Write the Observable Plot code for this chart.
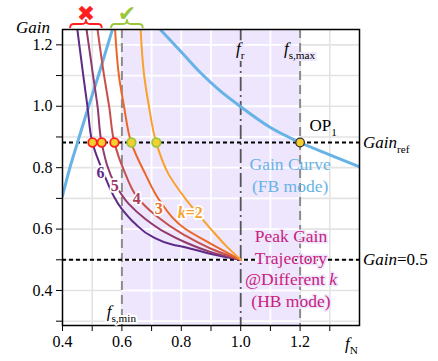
<!DOCTYPE html>
<html>
<head>
<meta charset="utf-8">
<script src="https://cdn.jsdelivr.net/npm/d3@7"></script>
<script src="https://cdn.jsdelivr.net/npm/@observablehq/plot@0.6"></script>
<style>
  html, body { margin: 0; padding: 0; background: #fff; }
  #chart svg { display: block; }
  #chart svg text.serif, #chart svg g[aria-label*="tick"] text, #chart svg g[aria-label*="axis"] text { font-family: "Liberation Serif", serif; }
</style>
</head>
<body>
<div id="chart"></div>
<script>
// Axis layout (normalized frequency f_N vs. gain)
const xDomain = [0.4, 1.4];
const yDomain = [0.286, 1.25];
const xTicks = [0.4, 0.5, 0.6, 0.7, 0.8, 0.9, 1.0, 1.1, 1.2, 1.3];
const xTickLabels = [0.4, 0.6, 0.8, 1.0, 1.2];
const yTicks = [0.3, 0.4, 0.5, 0.6, 0.7, 0.8, 0.9, 1.0, 1.1, 1.2];
const yTickLabels = [0.4, 0.6, 0.8, 1.0, 1.2];
const xGrid = [0.5, 0.6, 0.7, 0.8, 0.9, 1.0, 1.1, 1.2, 1.3];
const xGridInside = [0.7, 0.8, 0.9, 1.1];

// Key frequencies and gain levels
const fsMin = 0.6;
const fr = 1.0;
const fsMax = 1.2;
const gainRef = 0.882;
const gainHalf = 0.5;

// Gain curve in full-bridge mode (two visible branches around the clipped peak)
const fbRiseF = [0.400, 0.425, 0.450, 0.488, 0.521, 0.568];
const fbRiseG = [0.708, 0.800, 0.880, 1.000, 1.100, 1.250];
const fbFallF = [0.729, 0.797, 0.864, 0.931, 0.998, 1.100, 1.200, 1.300, 1.400];
const fbFallG = [1.250, 1.180, 1.110, 1.050, 1.000, 0.931, 0.882, 0.842, 0.803];

// Peak gain trajectories in half-bridge mode for k = 6, 5, 4, 3, 2
const k6F = [0.450, 0.470, 0.484, 0.501, 0.535, 0.600, 0.645, 0.701, 0.769, 0.813, 0.900, 1.000];
const k6G = [1.250, 1.100, 1.000, 0.880, 0.790, 0.665, 0.617, 0.576, 0.550, 0.541, 0.519, 0.500];
const k5F = [0.481, 0.503, 0.518, 0.532, 0.578, 0.623, 0.679, 0.746, 0.813, 0.900, 1.000];
const k5G = [1.250, 1.100, 1.000, 0.880, 0.745, 0.682, 0.633, 0.589, 0.557, 0.525, 0.500];
const k4F = [0.518, 0.540, 0.557, 0.575, 0.612, 0.651, 0.713, 0.813, 0.900, 1.000];
const k4G = [1.250, 1.100, 1.000, 0.880, 0.779, 0.705, 0.645, 0.579, 0.536, 0.500];
const k3F = [0.577, 0.590, 0.607, 0.632, 0.679, 0.729, 0.813, 0.900, 1.000];
const k3G = [1.250, 1.100, 1.000, 0.880, 0.779, 0.690, 0.601, 0.552, 0.500];
const k2F = [0.663, 0.675, 0.691, 0.716, 0.757, 0.813, 0.900, 0.950, 1.000];
const k2G = [1.250, 1.100, 1.000, 0.880, 0.779, 0.700, 0.600, 0.546, 0.500];

const kValues = [6, 5, 4, 3, 2];
const kColors = ["#5e2a86", "#923a6c", "#c6504d", "#eb6727", "#f9a12b"];
const kLabelColors = ["#642b8c", "#9a3468", "#ad3c5a", "#ec6a28", "#f9a12b"];
const kLabelText = ["6", "5", "4", "3", "k=2"];
const kLabelF = [0.530, 0.578, 0.652, 0.726, 0.832];
const kLabelG = [0.784, 0.739, 0.698, 0.664, 0.654];

// Crossings of each k trajectory with Gain_ref
const crossF = [0.501, 0.532, 0.575, 0.632, 0.716];

const serif = "Liberation Serif, serif";
const lavender = "#eee6fc";
const blue = "#68b3e6";
const magenta = "#c81d7e";
const okGreen = "#9ac73c";
const badRed = "#ff1f1f";
const markerFill = "#f4cf2f";

const kSeries = [
  {f: k6F, g: k6G}, {f: k5F, g: k5G}, {f: k4F, g: k4G}, {f: k3F, g: k3G}, {f: k2F, g: k2G}
];
const rows = (fs, gs) => fs.map((f, i) => ({f, g: gs[i]}));

// Multi-part text with italics and subscripts, positioned through the plot scales
function richText(items) {
  return (index, scales) => {
    const g = d3.create("svg:g");
    for (const it of items) {
      const x0 = scales.x(it.x) + (it.dx ?? 0);
      const y0 = scales.y(it.y) + (it.dy ?? 0);
      const size = it.size ?? 17;
      it.lines.forEach((parts, li) => {
        const t = g.append("text")
          .attr("class", "serif")
          .attr("x", x0)
          .attr("y", y0 + li * (it.lineHeight ?? 0))
          .attr("text-anchor", it.anchor ?? "start")
          .attr("font-size", size)
          .attr("fill", it.fill ?? "black");
        if (it.weight) t.attr("font-weight", it.weight);
        if (it.halo) {
          t.attr("stroke", it.halo).attr("stroke-width", it.haloWidth ?? 4)
            .attr("paint-order", "stroke").attr("stroke-linejoin", "round");
        }
        let down = false;
        for (const [txt, style] of parts) {
          const s = t.append("tspan").text(txt);
          if (style.includes("it")) s.attr("font-style", "italic");
          if (style.includes("sub")) {
            s.attr("font-size", size * 0.66);
            if (!down) { s.attr("dy", size * 0.28); down = true; }
          } else if (down) {
            s.attr("dy", -size * 0.28); down = false;
          }
        }
      });
    }
    return g.node();
  };
}

// Curly braces with ✖ / ✔ above the top edge of the frame
function braces(spans) {
  return (index, scales, values, dims) => {
    const g = d3.create("svg:g");
    const yb = dims.marginTop - 1, ym = yb - 4, yt = yb - 8, r = 4;
    for (const sp of spans) {
      const x1 = scales.x(sp.from), x2 = scales.x(sp.to), xm = (x1 + x2) / 2;
      const p = `M${x1},${yb} Q${x1},${ym} ${x1 + r},${ym} L${xm - r},${ym} Q${xm},${ym} ${xm},${yt}` +
        ` Q${xm},${ym} ${xm + r},${ym} L${x2 - r},${ym} Q${x2},${ym} ${x2},${yb}`;
      g.append("path").attr("d", p).attr("fill", "none").attr("stroke", sp.color)
        .attr("stroke-width", 1.8).attr("stroke-linejoin", "round");
      g.append("text").attr("x", xm).attr("y", yt + 1).attr("text-anchor", "middle")
        .attr("style", `font-family: 'DejaVu Sans', sans-serif; font-size: ${sp.size}px; font-weight: bold`)
        .attr("fill", sp.color).text(sp.glyph);
    }
    return g.node();
  };
}

const chart = Plot.plot({
  width: 438,
  height: 361,
  marginLeft: 62,
  marginRight: 79,
  marginTop: 29,
  marginBottom: 36,
  style: {fontFamily: serif, fontSize: "16px", background: "white", overflow: "visible", color: "black"},
  x: {
    domain: xDomain, ticks: xTicks, tickSize: 6, tickPadding: 4, label: null,
    tickFormat: d => xTickLabels.some(v => Math.abs(v - d) < 1e-9) ? d.toFixed(1) : ""
  },
  y: {
    domain: yDomain, ticks: yTicks, tickSize: 6, tickPadding: 4, label: null,
    tickFormat: d => yTickLabels.some(v => Math.abs(v - d) < 1e-9) ? d.toFixed(1) : ""
  },
  marks: [
    // light grid on white
    Plot.ruleX(xGrid, {stroke: "#e3e3e3", strokeWidth: 1.6}),
    Plot.ruleY(yTicks, {stroke: "#e3e3e3", strokeWidth: 1.6}),
    // operating band fs,min .. fs,max
    Plot.rect([{a: fsMin, b: fsMax}], {x1: "a", x2: "b", y1: yDomain[0], y2: yDomain[1], fill: lavender}),
    Plot.ruleX(xGridInside, {stroke: "white", strokeWidth: 1.8}),
    Plot.ruleY(yTicks, {x1: fsMin, x2: fsMax, stroke: "white", strokeWidth: 1.8}),
    // frequency markers
    Plot.ruleX([fsMin, fsMax], {stroke: "#8c8c8c", strokeWidth: 2, strokeDasharray: "9,5"}),
    Plot.ruleX([fr], {stroke: "#555", strokeWidth: 1.8, strokeDasharray: "14,4,2,4"}),
    // gain reference levels
    Plot.ruleY([gainRef, gainHalf], {x1: xDomain[0], x2: xDomain[1], stroke: "black", strokeWidth: 2, strokeDasharray: "4,3"}),
    // FB gain curve
    Plot.line(rows(fbRiseF, fbRiseG), {x: "f", y: "g", stroke: blue, strokeWidth: 3, curve: "monotone-x", clip: true}),
    Plot.line(rows(fbFallF, fbFallG), {x: "f", y: "g", stroke: blue, strokeWidth: 3, curve: "monotone-x", clip: true}),
    // HB peak gain trajectories
    ...kSeries.map((s, i) => Plot.line(rows(s.f, s.g), {
      x: "f", y: "g", stroke: kColors[i], strokeWidth: 2, curve: "monotone-y", clip: true
    })),
    // crossings at Gain_ref
    Plot.dot(crossF.filter(f => f < fsMin), {x: d => d, y: gainRef, r: 4.3, fill: markerFill, stroke: badRed, strokeWidth: 1.8}),
    Plot.dot(crossF.filter(f => f >= fsMin), {x: d => d, y: gainRef, r: 4.3, fill: markerFill, stroke: okGreen, strokeWidth: 1.8}),
    Plot.dot([fsMax], {x: d => d, y: gainRef, r: 4.3, fill: markerFill, stroke: "#333", strokeWidth: 1.3}),
    Plot.frame({stroke: "black", strokeWidth: 1.5}),
    // labels
    richText([
      ...kLabelText.map((t, i) => ({
        x: kLabelF[i], y: kLabelG[i], dy: 5.5, anchor: "middle", size: 16, weight: "bold",
        fill: kLabelColors[i], halo: "white", haloWidth: 3.5,
        lines: [t === "k=2" ? [["k", "it"], ["=2", ""]] : [[t, ""]]]
      })),
      {x: xDomain[0], y: yDomain[1], dx: -12, dy: 4, anchor: "end", size: 17, lines: [[["Gain", "it"]]]},
      {x: xDomain[1], y: yDomain[0], dx: -14, dy: 24, size: 17, lines: [[["f", "it"], ["N", "sub"]]]},
      {x: fr, y: yDomain[1], dy: 25, anchor: "middle", size: 17, halo: lavender, haloWidth: 4, lines: [[["f", "it"], ["r", "sub"]]]},
      {x: fsMax, y: yDomain[1], dy: 25, anchor: "middle", size: 17, halo: lavender, haloWidth: 4, lines: [[["f", "it"], ["s,max", "sub"]]]},
      {x: fsMin, y: yDomain[0], dy: -8, anchor: "middle", size: 17, halo: "white", haloWidth: 4, lines: [[["f", "it"], ["s,min", "sub"]]]},
      {x: fsMax, y: gainRef, dx: 10, dy: -11, size: 17, lines: [[["OP", ""], ["1", "sub"]]]},
      {x: xDomain[1], y: gainRef, dx: 4, dy: 6, size: 17, lines: [[["Gain", "it"], ["ref", "sub"]]]},
      {x: xDomain[1], y: gainHalf, dx: 4, dy: 6, size: 17, lines: [[["Gain", "it"], ["=0.5", ""]]]},
      {x: 1.168, y: 0.791, anchor: "middle", size: 17.5, fill: blue, lineHeight: 22,
        lines: [[["Gain Curve", ""]], [["(FB mode)", ""]]]},
      {x: 1.171, y: 0.556, anchor: "middle", size: 17.5, fill: magenta, lineHeight: 21.5,
        halo: lavender, haloWidth: 3,
        lines: [[["Peak Gain", ""]], [["Trajectory", ""]], [["@Different ", ""], ["k", "it"]], [["(HB mode)", ""]]]}
    ]),
    braces([
      {from: 0.427, to: 0.534, color: badRed, glyph: "✖", size: 22},
      {from: 0.565, to: 0.672, color: okGreen, glyph: "✔", size: 22}
    ])
  ]
});

d3.select(chart).selectAll("g[aria-label*='tick'] text, g[aria-label*='axis'] text")
  .attr("font-size", 16).attr("fill", "black");
document.getElementById("chart").append(chart);
</script>
</body>
</html>
